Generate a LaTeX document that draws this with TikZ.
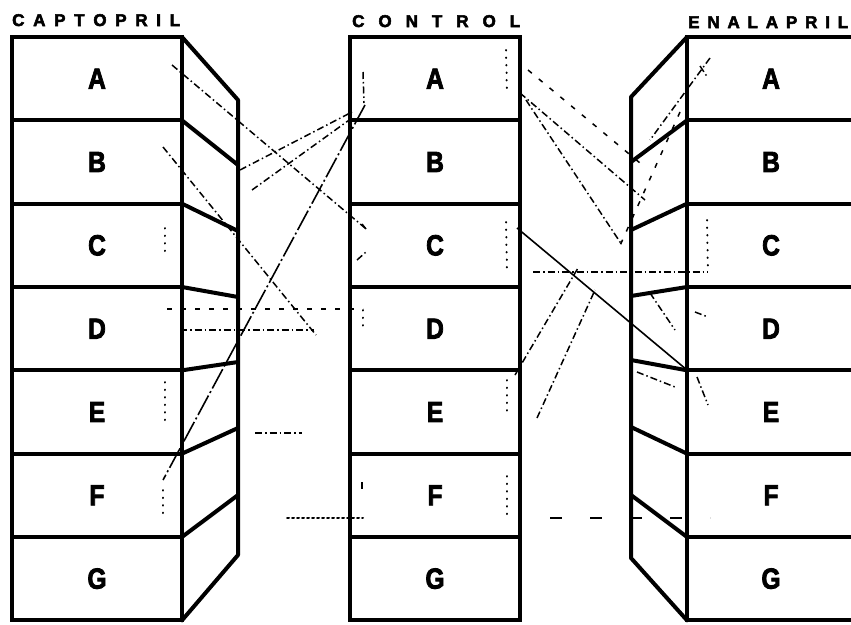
\documentclass[tikz,border=0pt]{standalone}
\usepackage{fontspec}
\setmainfont{Liberation Sans}
\newfontfamily\heavyfont{Liberation Sans}[BoldFeatures={FakeBold=3}]
\newcommand{\rowtext}[1]{\scalebox{0.85}[1]{\heavyfont\fontsize{29}{29}\selectfont\bfseries #1}}
\begin{document}
\begin{tikzpicture}[x=1pt,y=-1pt,
  cell/.style={draw,line width=4pt,minimum width=170pt,minimum height=83.33pt,inner sep=0pt,outer sep=0pt},
  ecell/.style={cell,minimum width=168pt},
  panel/.style={line width=4pt,line join=round,line cap=round},
  title/.style={font=\heavyfont\fontsize{17}{17}\selectfont\bfseries,inner sep=0pt,anchor=base west},
  link/.style={line width=1.5pt,dash pattern=on 7pt off 3pt on 1.5pt off 3pt},
  sparse/.style={line width=1.5pt,dash pattern=on 5pt off 9pt},
  dots/.style={line width=2pt,line cap=round,dash pattern=on 0.5pt off 7pt},
  longdash/.style={line width=1.6pt,dash pattern=on 22pt off 3pt on 2pt off 3pt},
  solidlink/.style={line width=1.6pt}]
\useasboundingbox (0,0) rectangle (851,624);
\clip (0,0) rectangle (851,624);

% column titles
\node[title] (tcap) at (12,26) {\makebox[168pt][s]{C\hfill A\hfill P\hfill T\hfill O\hfill P\hfill R\hfill I\hfill L}};
\node[title] (tcon) at (352,27) {\makebox[168pt][s]{C\hfill O\hfill N\hfill T\hfill R\hfill O\hfill L}};
\node[title] (tena) at (688,28) {\makebox[160pt][s]{E\hfill N\hfill A\hfill L\hfill A\hfill P\hfill R\hfill I\hfill L}};

% the three stacks of cells
\foreach \L/\i in {A/0,B/1,C/2,D/3,E/4,F/5,G/6}{
  \node[cell]  (cap\L) at (97,{78.67+83.33*\i})  {\rowtext{\L}};
  \node[cell]  (con\L) at (435,{78.67+83.33*\i}) {\rowtext{\L}};
  \node[ecell] (ena\L) at (771,{78.67+83.33*\i}) {\rowtext{\L}};
}

% side panels in perspective
\coordinate (capTop) at (238,100);
\coordinate (capBot) at (238,555);
\draw[panel] (capA.north east) -- (capTop) -- (capBot) -- (capG.south east);
\foreach \L/\yy in {A/165,B/231,C/297,D/362,E/428,F/495}
  \draw[panel] (cap\L.south east) -- (238,\yy);

\coordinate (enaTop) at (631,97);
\coordinate (enaBot) at (631,558);
\draw[panel] (enaA.north west) -- (enaTop) -- (enaBot) -- (enaG.south west);
\foreach \L/\yy in {A/162,B/230,C/296,D/360,E/427,F/495}
  \draw[panel] (ena\L.south west) -- (631,\yy);

% end points of the links between captopril and control
\coordinate (p1a) at (172,65);  \coordinate (p1b) at (365,228);
\coordinate (p2a) at (163,147); \coordinate (p2b) at (316,335);
\coordinate (p3a) at (240,170); \coordinate (p3b) at (352,112);
\coordinate (p4a) at (252,190); \coordinate (p4b) at (352,118);
\coordinate (p5a) at (365,105); \coordinate (p5b) at (163,480);
\coordinate (p6a) at (180,330); \coordinate (p6b) at (314,330);
\coordinate (p7a) at (167,309); \coordinate (p7b) at (363,309);
\coordinate (p8a) at (255,433); \coordinate (p8b) at (302,433);
\coordinate (p9a) at (287,518); \coordinate (p9b) at (363,518);

\draw[link] (p1a) -- (p1b);
\draw[link] (p2a) -- (p2b);
\draw[link] (p3a) -- (p3b);
\draw[link] (p4a) -- (p4b);
\draw[longdash] (p5a) -- (p5b);
\draw[link] (p6a) -- (p6b);
\draw[sparse] (p7a) -- (p7b);
\draw[link] (p8a) -- (p8b);
\draw[dots,dash pattern=on 2pt off 3pt] (p9a) -- (p9b);

% dotted ends inside the cells
\coordinate (d1a) at (165,228); \coordinate (d1b) at (165,258);
\coordinate (d2a) at (165,382); \coordinate (d2b) at (165,425);
\coordinate (d3a) at (163,490); \coordinate (d3b) at (163,520);
\coordinate (d4a) at (363,72);  \coordinate (d4b) at (364,103);
\coordinate (d5a) at (506,50);  \coordinate (d5b) at (507,93);
\coordinate (d6a) at (357,260); \coordinate (d6b) at (366,252);
\coordinate (d7a) at (506,222); \coordinate (d7b) at (507,272);
\coordinate (d8a) at (363,310); \coordinate (d8b) at (363,332);
\coordinate (d9a) at (507,380); \coordinate (d9b) at (507,413);
\coordinate (d10a) at (362,482); \coordinate (d10b) at (362,490);
\coordinate (d11a) at (507,476); \coordinate (d11b) at (507,518);
\coordinate (d12a) at (707,220); \coordinate (d12b) at (708,272);
\coordinate (d13a) at (700,66);  \coordinate (d13b) at (708,78);
\coordinate (d14a) at (362,224); \coordinate (d14b) at (366,229);
\foreach \n in {1,2,3,5,7,8,9,11,12}
  \draw[dots] (d\n a) -- (d\n b);
\foreach \n in {4,6,10,13,14}
  \draw[link] (d\n a) -- (d\n b);

% end points of the links between control and enalapril
\coordinate (q1a) at (520,93);  \coordinate (q1b) at (645,200);
\coordinate (q2a) at (528,70);  \coordinate (q2b) at (640,163);
\coordinate (q3a) at (526,100); \coordinate (q3b) at (622,245);
\coordinate (q4a) at (710,58);  \coordinate (q4b) at (650,140);
\coordinate (q5a) at (680,112); \coordinate (q5b) at (618,250);
\coordinate (q6a) at (517,228); \coordinate (q6b) at (687,370);
\coordinate (q7a) at (533,272); \coordinate (q7b) at (708,272);
\coordinate (q8a) at (515,375); \coordinate (q8b) at (578,268);
\coordinate (q9a) at (537,418); \coordinate (q9b) at (595,290);
\coordinate (q10a) at (550,518); \coordinate (q10b) at (710,518);
\coordinate (q11a) at (650,293); \coordinate (q11b) at (675,330);
\coordinate (q12a) at (637,372); \coordinate (q12b) at (675,387);
\coordinate (q13a) at (695,312); \coordinate (q13b) at (708,317);
\coordinate (q14a) at (697,377); \coordinate (q14b) at (708,405);

\draw[link] (q1a) -- (q1b);
\draw[sparse] (q2a) -- (q2b);
\draw[link] (q3a) -- (q3b);
\draw[link] (q4a) -- (q4b);
\draw[sparse] (q5a) -- (q5b);
\draw[solidlink] (q6a) -- (q6b);
\draw[link] (q7a) -- (q7b);
\draw[link] (q8a) -- (q8b);
\draw[link] (q9a) -- (q9b);
\draw[sparse,dash pattern=on 12pt off 28pt] (q10a) -- (q10b);
\draw[link] (q11a) -- (q11b);
\draw[link] (q12a) -- (q12b);
\draw[link] (q13a) -- (q13b);
\draw[link] (q14a) -- (q14b);
\end{tikzpicture}
\end{document}
